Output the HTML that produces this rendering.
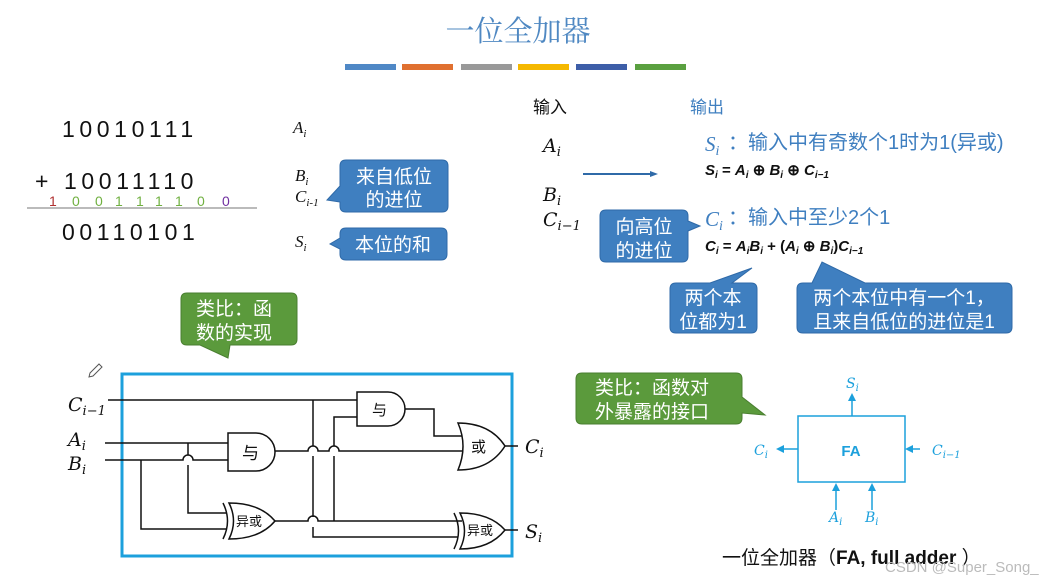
<!DOCTYPE html>
<html><head><meta charset="utf-8"><style>
body{margin:0;background:#fff}
svg{display:block}
.cj{font-family:"Liberation Sans","Noto Sans CJK SC",sans-serif}
.it{font-family:"Liberation Serif","DejaVu Serif",serif;font-style:italic}
</style></head><body>
<svg width="1062" height="582" viewBox="0 0 1062 582" xmlns="http://www.w3.org/2000/svg">
<rect width="1062" height="582" fill="#fff"/>
<text x="518" y="41" text-anchor="middle" font-family="'Liberation Serif','Noto Serif CJK SC',serif" font-size="29" fill="#4f88c2">一位全加器</text>
<g>
<rect x="345" y="64" width="51" height="6" fill="#4f88c6"/>
<rect x="402" y="64" width="51" height="6" fill="#e07030"/>
<rect x="461" y="64" width="51" height="6" fill="#999"/>
<rect x="518" y="64" width="51" height="6" fill="#f5b800"/>
<rect x="576" y="64" width="51" height="6" fill="#3d5ea8"/>
<rect x="635" y="64" width="51" height="6" fill="#5aa040"/>
</g>
<g font-family="'Liberation Sans',sans-serif" font-size="23" fill="#111" letter-spacing="4.6">
<text x="62" y="137">10010111</text>
<text x="35" y="189">+ 10011110</text>
<text x="62" y="240">00110101</text>
</g>
<g font-family="'Liberation Sans',sans-serif" font-size="14">
<text x="49" y="206" fill="#b03030">1</text>
<text x="72" y="206" fill="#70b040">0</text>
<text x="95" y="206" fill="#70b040">0</text>
<text x="115" y="206" fill="#70b040">1</text>
<text x="136" y="206" fill="#70b040">1</text>
<text x="155" y="206" fill="#70b040">1</text>
<text x="175" y="206" fill="#70b040">1</text>
<text x="197" y="206" fill="#70b040">0</text>
<text x="222" y="206" fill="#7030a0">0</text>
</g>
<line x1="27" y1="208" x2="257" y2="208" stroke="#777" stroke-width="1"/>
<g class="it" font-size="17" fill="#111">
<text x="293" y="133">A<tspan font-size="11" dy="4">i</tspan></text>
<text x="295" y="181">B<tspan font-size="11" dy="4">i</tspan></text>
<text x="295" y="202">C<tspan font-size="11" dy="4">i-1</tspan></text>
<text x="295" y="247">S<tspan font-size="11" dy="4">i</tspan></text>
</g>
<g fill="#3f7fc0" stroke="#2f6aa8" stroke-width="1">
<path d="M346 160 H442 Q448 160 448 166 V206 Q448 212 442 212 H346 Q340 212 340 206 V202 L327 200 L340 186 V166 Q340 160 346 160Z"/>
<path d="M346 228 H441 Q447 228 447 234 V254 Q447 260 441 260 H346 Q340 260 340 254 V249 L330 244 L340 238 V234 Q340 228 346 228Z"/>
</g>
<g class="cj" font-size="19" fill="#fff" text-anchor="middle">
<text x="394" y="183">来自低位</text>
<text x="394" y="206">的进位</text>
<text x="393" y="251">本位的和</text>
</g>
<text x="533" y="113" class="cj" font-size="17" fill="#111">输入</text>
<text x="690" y="113" class="cj" font-size="17" fill="#3f7fc0">输出</text>
<g font-family="'DejaVu Serif',serif" font-style="italic" font-size="19" fill="#111">
<text x="543" y="152">A<tspan font-size="13" dy="4">i</tspan></text>
<text x="543" y="201">B<tspan font-size="13" dy="4">i</tspan></text>
<text x="543" y="226">C<tspan font-size="13" dy="4">i−1</tspan></text>
</g>
<line x1="583" y1="174" x2="652" y2="174" stroke="#2f6aa8" stroke-width="2"/>
<path d="M658 174 L650 171 L650 177Z" fill="#2f6aa8"/>
<g fill="#3f7fc0" font-size="20">
<text x="705" y="151" class="it" font-size="21">S<tspan font-size="14" dy="4">i</tspan></text>
<text x="728" y="149" class="cj">：输入中有奇数个1时为1(异或)</text>
<text x="705" y="226" class="it" font-size="21">C<tspan font-size="14" dy="4">i</tspan></text>
<text x="728" y="224" class="cj">：输入中至少2个1</text>
</g>
<g font-family="'Liberation Sans',sans-serif" font-size="15" fill="#111" font-weight="bold">
<text x="705" y="175"><tspan font-style="italic">S<tspan font-size="10" dy="3">i</tspan></tspan><tspan dy="-3"> = </tspan><tspan font-style="italic">A<tspan font-size="10" dy="3">i</tspan></tspan><tspan dy="-3"> ⊕ </tspan><tspan font-style="italic">B<tspan font-size="10" dy="3">i</tspan></tspan><tspan dy="-3"> ⊕ </tspan><tspan font-style="italic">C<tspan font-size="10" dy="3">i−1</tspan></tspan></text>
<text x="705" y="251"><tspan font-style="italic">C<tspan font-size="10" dy="3">i</tspan></tspan><tspan dy="-3"> = </tspan><tspan font-style="italic">A<tspan font-size="10" dy="3">i</tspan><tspan dy="-3">B</tspan><tspan font-size="10" dy="3">i</tspan></tspan><tspan dy="-3"> + (</tspan><tspan font-style="italic">A<tspan font-size="10" dy="3">i</tspan></tspan><tspan dy="-3"> ⊕ </tspan><tspan font-style="italic">B<tspan font-size="10" dy="3">i</tspan></tspan><tspan dy="-3">)</tspan><tspan font-style="italic">C<tspan font-size="10" dy="3">i−1</tspan></tspan></text>
</g>
<g fill="#3f7fc0" stroke="#2f6aa8" stroke-width="1">
<path d="M606 210 H682 Q688 210 688 216 V221 L700 226 L688 231 V256 Q688 262 682 262 H606 Q600 262 600 256 V216 Q600 210 606 210Z"/>
<path d="M676 283 H710 L752 268 L732 283 H751 Q757 283 757 289 V327 Q757 333 751 333 H676 Q670 333 670 327 V289 Q670 283 676 283Z"/>
<path d="M803 283 H812 L822 262 L865 283 H1006 Q1012 283 1012 289 V327 Q1012 333 1006 333 H803 Q797 333 797 327 V289 Q797 283 803 283Z"/>
</g>
<g class="cj" font-size="19" fill="#fff" text-anchor="middle">
<text x="644" y="233">向高位</text>
<text x="644" y="257">的进位</text>
<text x="713" y="304">两个本</text>
<text x="713" y="328">位都为1</text>
<text x="904" y="304">两个本位中有一个1，</text>
<text x="904" y="328">且来自低位的进位是1</text>
</g>
<g fill="#5b9a3c" stroke="#4a7f30" stroke-width="1">
<path d="M187 293 H291 Q297 293 297 299 V339 Q297 345 291 345 H230 L228 358 L200 345 H187 Q181 345 181 339 V299 Q181 293 187 293Z"/>
<path d="M582 373 H736 Q742 373 742 379 V397 L765 415 L742 413 V418 Q742 424 736 424 H582 Q576 424 576 418 V379 Q576 373 582 373Z"/>
</g>
<g class="cj" font-size="19" fill="#fff">
<text x="196" y="315">类比：函</text>
<text x="196" y="339">数的实现</text>
<text x="595" y="394">类比：函数对</text>
<text x="595" y="418">外暴露的接口</text>
</g>
<rect x="122" y="374" width="390" height="182" fill="none" stroke="#1ca0dc" stroke-width="3"/>
<g font-family="'DejaVu Serif',serif" font-style="italic" font-size="19" fill="#111">
<text x="68" y="411">C<tspan font-size="13" dy="4">i−1</tspan></text>
<text x="68" y="446">A<tspan font-size="13" dy="4">i</tspan></text>
<text x="68" y="470">B<tspan font-size="13" dy="4">i</tspan></text>
<text x="525" y="453">C<tspan font-size="13" dy="4">i</tspan></text>
<text x="525" y="538">S<tspan font-size="13" dy="4">i</tspan></text>
</g>
<g fill="none" stroke="#111" stroke-width="1.5">
<path d="M108 400 H357"/>
<path d="M105 443 H228"/>
<path d="M105 460 H183 a5 5 0 0 1 10 0 H228"/>
<path d="M188 443 V455 M188 465 V513 H226"/>
<path d="M141 460 V529 H226"/>
<path d="M313 400 V446 M313 456 V517 M313 527 V537 H458"/>
<path d="M275 451 H308 a5 5 0 0 1 10 0 H329 a5 5 0 0 1 10 0 H462"/>
<path d="M275 521 H308 a5 5 0 0 1 10 0 H462"/>
<path d="M357 417 H334 V446 M334 456 V521"/>
<path d="M405 409 H434 V436 H462"/>
<path d="M505 446 H518 M505 530 H518"/>
<path d="M228 433 H256 A19 19 0 0 1 256 471 H228 Z"/>
<path d="M357 392 H388 A17 17 0 0 1 388 426 H357 Z"/>
<path d="M458 423 Q490 423 505 446 Q490 470 458 470 Q468 446 458 423 Z"/>
<path d="M229 503 Q260 503 275 521 Q260 539 229 539 Q238 521 229 503 Z"/>
<path d="M223 503 Q232 521 223 539"/>
<path d="M460 513 Q490 513 505 530 Q490 549 460 549 Q469 531 460 513 Z"/>
<path d="M454 513 Q463 531 454 549"/>
</g>
<g class="cj" fill="#111">
<text x="242" y="459" font-size="17">与</text>
<text x="372" y="415" font-size="15">与</text>
<text x="471" y="452" font-size="15">或</text>
<text x="236" y="526" font-size="13">异或</text>
<text x="467" y="535" font-size="13">异或</text>
</g>
<path d="M90 373 L99 364 L102 367 L93 376 L89 377Z" fill="none" stroke="#555" stroke-width="1"/>
<g stroke="#1ca0dc" fill="none" stroke-width="1.5">
<rect x="798" y="416" width="107" height="66"/>
<path d="M852 416 V399 M798 449 H781 M920 449 H908 M836 510 V488 M872 510 V488"/>
</g>
<g fill="#1ca0dc">
<path d="M852 393 L848 401 L856 401Z"/>
<path d="M776 449 L784 445 L784 453Z"/>
<path d="M905 449 L913 445 L913 453Z"/>
<path d="M836 483 L832 491 L840 491Z"/>
<path d="M872 483 L868 491 L876 491Z"/>
</g>
<text x="851" y="456" text-anchor="middle" font-family="'Liberation Sans',sans-serif" font-size="15" fill="#1ca0dc" font-weight="bold">FA</text>
<g font-family="'DejaVu Serif',serif" font-style="italic" font-size="14" fill="#1ca0dc">
<text x="846" y="388">S<tspan font-size="10" dy="3">i</tspan></text>
<text x="754" y="455">C<tspan font-size="10" dy="3">i</tspan></text>
<text x="932" y="455">C<tspan font-size="10" dy="3">i−1</tspan></text>
<text x="829" y="522">A<tspan font-size="10" dy="3">i</tspan></text>
<text x="865" y="522">B<tspan font-size="10" dy="3">i</tspan></text>
</g>
<text x="722" y="564" class="cj" font-size="19" fill="#111">一位全加器（<tspan font-family="'Liberation Sans',sans-serif" font-weight="bold">FA, full adder </tspan>）</text>
<text x="885" y="572" font-family="'Liberation Sans',sans-serif" font-size="15" fill="#bbb">CSDN @Super_Song_</text>
</svg>
</body></html>
